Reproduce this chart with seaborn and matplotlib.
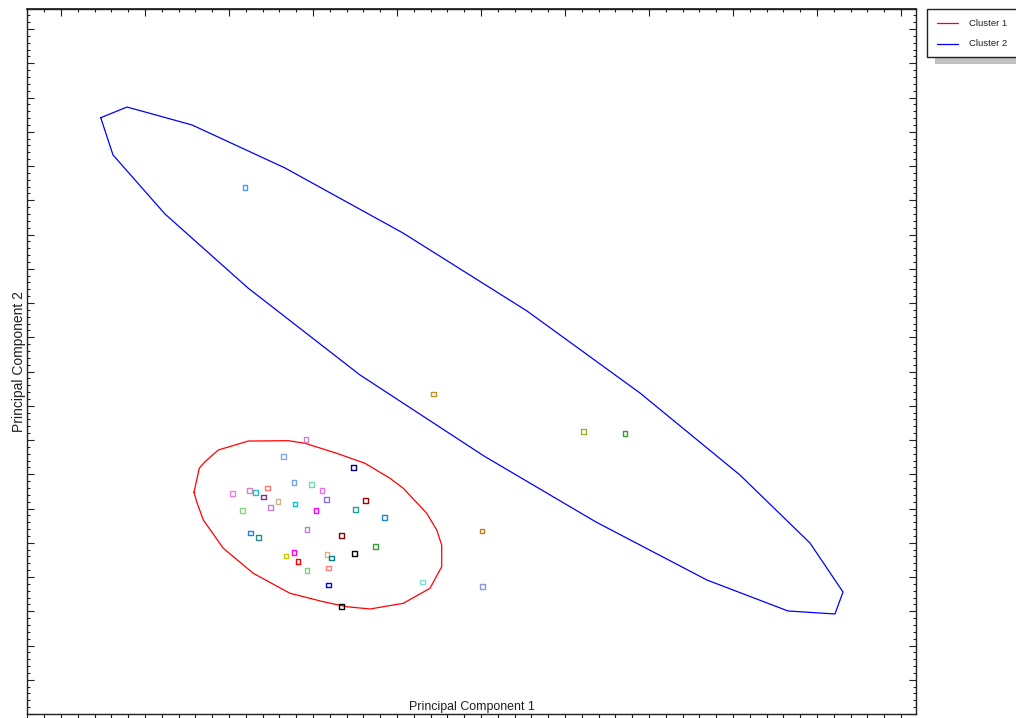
import numpy as np
import pandas as pd
import matplotlib
matplotlib.use("Agg")
import matplotlib.pyplot as plt
from matplotlib.ticker import MultipleLocator
from matplotlib.patches import Rectangle
from matplotlib.lines import Line2D
import seaborn as sns

# --- sample scores on the first two principal components ---
pc1 = [-1.083, -1.354, -0.520, -1.226, -1.020, -0.893, -1.539, -1.754, -1.682,
       -1.961, -1.587, -1.417, -0.842, -0.377, -1.214, -1.504, -1.837, -0.964,
       -0.496, -0.151, -1.071, -1.746, -1.646, -0.663, -0.254, -1.226, -1.321,
       -1.179, -0.833, -0.782, -0.508, -1.071, -0.818, -0.818, -0.663, 0.306,
       0.437, 2.218, 2.714, 1.012, 1.015, -1.810]
pc2 = [1.010, 0.762, 0.596, 0.382, 0.353, 0.266, 0.299, 0.266, 0.231,
       0.216, 0.168, 0.099, 0.134, 0.120, 0.066, 0.018, -0.032, -0.032,
       -0.018, -0.134, -0.309, -0.358, -0.426, -0.397, -0.558, -0.639, -0.693,
       -0.771, -0.674, -0.723, -0.660, -0.902, -0.869, -1.117, -1.434, -1.073,
       1.672, 1.127, 1.092, -0.328, -1.136, 4.683]
sample_colors = ["#e080c0", "#80a8ec", "#000080", "#78a0e8", "#70d8b0", "#ee70ee",
                 "#ff7878", "#e080c0", "#20c0c8", "#ee80ee", "#803080", "#d2b48c",
                 "#9070d8", "#a00000", "#00c8d0", "#c080e0", "#80d880", "#ff00ff",
                 "#20a090", "#1e88c8", "#c080d0", "#1e80ff", "#2a8a8a", "#8b0000",
                 "#30a030", "#ff00ff", "#c8c800", "#ff0000", "#d2b48c", "#008080",
                 "#000000", "#80d080", "#ff8080", "#0000ff", "#000000", "#80e0d0",
                 "#c89020", "#98b030", "#30a030", "#c08020", "#9090f0", "#4499ff"]
sample_ids = [f"S{i + 1}" for i in range(len(pc1))]

# --- cluster boundaries (polygon vertices in PC space) ---
cluster1_pc1 = [-2.417, -2.354, -2.286, -2.127, -1.770, -1.294, -1.095, -0.718,
                -0.381, -0.083, 0.075, 0.354, 0.473, 0.532, 0.532, 0.393, 0.075,
                -0.321, -0.599, -0.877, -1.274, -1.711, -2.068, -2.306, -2.385]
cluster1_pc2 = [0.236, 0.587, 0.683, 0.854, 0.985, 0.990, 0.952, 0.806,
                0.660, 0.441, 0.295, -0.070, -0.314, -0.533, -0.850, -1.165, -1.384,
                -1.467, -1.434, -1.361, -1.238, -0.946, -0.581, -0.168, 0.099]
cluster2_pc1 = [-3.527, -3.214, -2.440, -1.333, 0.071, 1.548, 2.893, 4.083, 4.917,
                5.310, 5.214, 4.655, 3.690, 2.369, 1.036, -0.440, -1.774, -2.762,
                -3.381]
cluster2_pc2 = [5.705, 5.861, 5.599, 4.971, 4.022, 2.883, 1.686, 0.489, -0.504,
                -1.219, -1.540, -1.496, -1.044, -0.197, 0.766, 1.949, 3.219, 4.299,
                5.161]
cluster_names = ["Cluster 1", "Cluster 2"]
cluster_colors = ["#ff0000", "#0000ff"]

sns.set_theme(style="white")
plt.rcParams["font.family"] = ["Liberation Sans", "DejaVu Sans"]

W, H = 1016, 718
fig = plt.figure(figsize=(W / 100, H / 100), dpi=100)
ax = fig.add_axes([27 / W, 4 / H, 889 / W, 705 / H])

# cluster outlines, closed polygons
for name, xs, ys, col in [
    (cluster_names[0], cluster1_pc1, cluster1_pc2, cluster_colors[0]),
    (cluster_names[1], cluster2_pc1, cluster2_pc2, cluster_colors[1]),
]:
    poly = pd.DataFrame({"x": xs + xs[:1], "y": ys + ys[:1]})
    sns.lineplot(data=poly, x="x", y="y", sort=False, estimator=None,
                 color=col, linewidth=0.9, ax=ax)

# sample points as hollow squares
samples = pd.DataFrame({"pc1": pc1, "pc2": pc2, "sample": sample_ids})
sns.scatterplot(data=samples, x="pc1", y="pc2", hue="sample",
                palette=sample_colors, marker="s", s=12, linewidth=1.0,
                legend=False, ax=ax, zorder=3)
for coll in ax.collections:
    fc = coll.get_facecolors()
    coll.set_edgecolors(fc)
    coll.set_facecolors("none")

ax.set_xlim(-4.405, 6.179)
ax.set_ylim(-3.0, 7.292)

# axes frame and ticks
for sp in ax.spines.values():
    sp.set_visible(True)
    sp.set_color("#202020")
    sp.set_linewidth(1.0)
ax.xaxis.set_major_locator(MultipleLocator(1.0))
ax.xaxis.set_minor_locator(MultipleLocator(0.2))
ax.yaxis.set_major_locator(MultipleLocator(0.5))
ax.yaxis.set_minor_locator(MultipleLocator(0.1))
ax.tick_params(which="both", labelbottom=False, labelleft=False,
               left=True, right=True, top=False, bottom=True, color="#202020",
               width=0.8)
ax.tick_params(axis="y", which="major", direction="in", length=5)
ax.tick_params(axis="y", which="minor", direction="in", length=2.5)
ax.tick_params(axis="x", which="both", direction="out", length=4)

# top edge carries inward ticks on the same scale
top = ax.secondary_xaxis("top")
top.xaxis.set_major_locator(MultipleLocator(1.0))
top.xaxis.set_minor_locator(MultipleLocator(0.2))
top.tick_params(which="both", labeltop=False, color="#202020", width=0.8,
                direction="in")
top.tick_params(which="major", length=5)
top.tick_params(which="minor", length=2.5)
top.spines["top"].set_color("#202020")

ax.set_xlabel("Principal Component 1", fontsize=8.9, color="#202020")
ax.set_ylabel("Principal Component 2", fontsize=10, color="#202020")
ax.xaxis.set_label_coords(0.5, 0.019)
ax.yaxis.set_label_coords(-0.0016, 0.5)
ax.grid(False)

# legend box with drop shadow, placed right of the plot area
def px(x, y):
    return x / W, 1 - y / H

sx, sy = px(935, 64)
fig.add_artist(Rectangle((sx, sy), (1030 - 935) / W, 8 / H,
                         transform=fig.transFigure, facecolor="#c0c0c0",
                         edgecolor="none", zorder=1))
bx, by = px(927, 57)
fig.add_artist(Rectangle((bx, by), (1030 - 927) / W, 48 / H,
                         transform=fig.transFigure, facecolor="white",
                         edgecolor="#202020", linewidth=1.0, zorder=2))
for i, (name, col) in enumerate(zip(cluster_names, cluster_colors)):
    yy = 23 + i * 21
    x0, y0 = px(937, yy)
    x1, _ = px(958, yy)
    fig.add_artist(Line2D([x0, x1], [y0, y0], transform=fig.transFigure,
                          color=col, linewidth=0.9, zorder=3))
    tx, ty = px(969, yy)
    fig.text(tx, ty, name, fontsize=6.8, va="center", ha="left",
             color="#202020", zorder=3)

fig.savefig("out.png", dpi=100, facecolor="white")
